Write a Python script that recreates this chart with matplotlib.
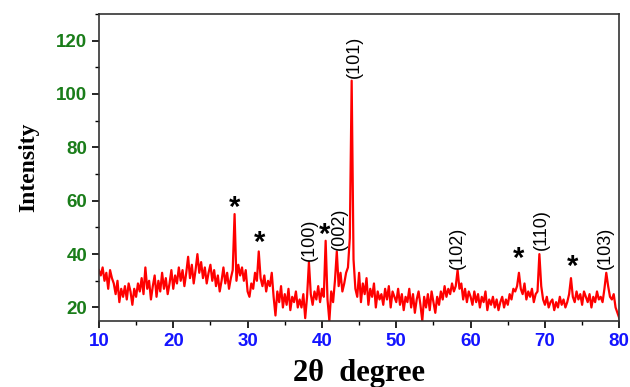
import numpy as np
import matplotlib.pyplot as plt
from matplotlib.ticker import MultipleLocator

# scan from 10 to 80 degree, step 0.25
two_theta = np.arange(10, 80.001, 0.25)
intensity = [
    34, 32, 35, 30,  33, 27, 34, 31,  29, 25, 30, 22,  27, 24, 28, 23,  29, 26, 21, 27,
    24, 29, 26, 31,  25, 35, 27, 30,  23, 28, 32, 24,  30, 26, 33, 27,  31, 25, 29, 34,
    27, 32, 29, 35,  30, 34, 28, 33,  39, 31, 36, 29,  34, 40, 33, 37,  31, 35, 29, 33,
    36, 30, 34, 28,  32, 26, 30, 35,  29, 33, 27, 31,  34, 55, 30, 36,  32, 35, 30, 34,
    26, 24, 29, 27,  33, 30, 41, 31,  28, 32, 26, 30,  28, 33, 24, 17,  26, 22, 28, 20,
    25, 21, 27, 19,  24, 22, 26, 20,  23, 20, 25, 16,  24, 37, 25, 21,  26, 23, 28, 22,
    27, 24, 45, 23,  15, 26, 22, 30,  41, 28, 33, 26,  29, 33, 35, 46,  105, 38, 27, 24,
    33, 22, 29, 25,  31, 21, 27, 24,  29, 20, 26, 23,  25, 21, 27, 23,  28, 20, 26, 24,
    22, 27, 21, 25,  19, 24, 22, 27,  20, 25, 18, 23,  26, 21, 15, 24,  20, 25, 19, 26,
    22, 18, 24, 21,  26, 23, 28, 24,  27, 25, 29, 26,  28, 34, 27, 29,  23, 27, 22, 26,
    24, 21, 26, 22,  25, 20, 24, 22,  26, 19, 23, 21,  24, 20, 23, 19,  22, 24, 20, 23,
    21, 25, 23, 27,  26, 28, 33, 27,  25, 29, 23, 26,  24, 27, 22, 25,  26, 40, 28, 23,
    21, 24, 20, 22,  23, 19, 22, 20,  24, 21, 23, 20,  22, 25, 31, 24,  22, 26, 23, 25,
    21, 26, 24, 22,  25, 20, 24, 22,  26, 23, 24, 22,  27, 33, 28, 24,  23, 25, 20, 18,
    16,
]

# hkl labels: (text, x, y)
hkl_labels = ['(100)', '(002)', '(101)', '(102)', '(110)', '(103)']
hkl_x = [38.3, 42.3, 44.4, 58.2, 69.5, 78.1]
hkl_y = [37.5, 41.5, 106, 34.5, 41.5, 34.5]

# impurity peaks marked with *
star_x = [28.3, 31.6, 40.3, 66.5, 73.7]
star_y = [52, 39, 42, 33, 30]

fig = plt.figure(figsize=(6.3, 3.87), dpi=100)
ax = fig.add_axes([0.157, 0.171, 0.826, 0.793])

ax.plot(two_theta, intensity, color='red', lw=1.6)

for t, x, y in zip(hkl_labels, hkl_x, hkl_y):
    ax.text(x, y, t, rotation=90, ha='center', va='bottom',
            fontsize=13, family='Liberation Sans')
for x, y in zip(star_x, star_y):
    ax.text(x, y, '*', ha='center', va='bottom', fontsize=21,
            fontweight='bold', family='Liberation Sans')

ax.set_xlim(10, 80)
ax.set_ylim(15, 130)
ax.xaxis.set_major_locator(MultipleLocator(10))
ax.xaxis.set_minor_locator(MultipleLocator(5))
ax.yaxis.set_major_locator(MultipleLocator(20))
ax.yaxis.set_minor_locator(MultipleLocator(10))
ax.set_yticks(range(20, 121, 20))
ax.tick_params(which='both', direction='out', top=False, right=False)
ax.tick_params(which='major', length=5, width=1.2)
ax.tick_params(which='minor', length=3, width=1)

for lab in ax.get_xticklabels():
    lab.set_color('#1414ff')
    lab.set_fontweight('bold')
    lab.set_fontsize(13.5)
    lab.set_family('Liberation Sans')
for lab in ax.get_yticklabels():
    lab.set_color('#1a7d1a')
    lab.set_fontweight('bold')
    lab.set_fontsize(13.5)
    lab.set_family('Liberation Sans')

for s in ax.spines.values():
    s.set_linewidth(1.2)
    s.set_color('#333333')

ax.set_xlabel('2\u03b8  degree', fontsize=22, fontweight='bold',
              family='Liberation Serif', labelpad=7)
ax.set_ylabel('Intensity', fontsize=17, fontweight='bold',
              family='Liberation Serif', labelpad=12)

fig.savefig('out.png', dpi=100)
